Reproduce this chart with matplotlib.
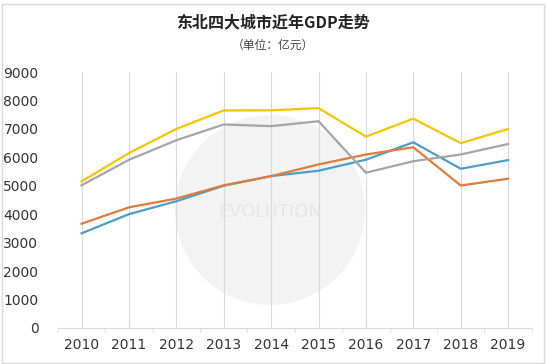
import matplotlib
matplotlib.use("Agg")
import matplotlib.pyplot as plt
from matplotlib.patches import Circle, Rectangle

years = ["2010", "2011", "2012", "2013", "2014", "2015", "2016", "2017", "2018", "2019"]
dalian = [5158, 6150, 7002, 7650, 7655, 7731, 6730, 7363, 6500, 7001]
shenyang = [5017, 5915, 6602, 7158, 7098, 7272, 5460, 5865, 6101, 6470]
changchun = [3329, 4003, 4457, 5004, 5342, 5530, 5917, 6530, 5599, 5904]
harbin = [3665, 4243, 4550, 5017, 5340, 5751, 6101, 6355, 5010, 5249]
yticks = [0, 1000, 2000, 3000, 4000, 5000, 6000, 7000, 8000, 9000]

plt.rcParams['font.family'] = ['Noto Sans CJK SC', 'DejaVu Sans']

fig = plt.figure(figsize=(5.46, 3.64), dpi=100)
fig.patch.set_facecolor('white')
# outer border
fig.patches.append(Rectangle((0.004, 0.004), 0.992, 0.984, transform=fig.transFigure,
                             fill=False, edgecolor='#d9d9d9', linewidth=1.0))

# faint watermark behind the plot
wm = Circle((270, 364 - 210), 95, transform=None, facecolor='#f3f3f3',
            edgecolor='none', zorder=-5)
fig.patches.append(wm)
fig.text(270 / 546, 1 - 212 / 364, "EVOLUTION", ha='center', va='center', fontsize=13,
         color='#e6e6e6', family='DejaVu Sans', zorder=-4)

ax = fig.add_axes([0.106, 0.099, 0.868, 0.703])
ax.set_facecolor('none')
x = list(range(len(years)))

for xi in x:
    ax.axvline(xi, color='#d9d9d9', linewidth=0.8, zorder=1)

ax.plot(x, changchun, color='#4a9ec7', linewidth=1.6, zorder=3)
ax.plot(x, harbin, color='#e07b39', linewidth=1.6, zorder=3)
ax.plot(x, shenyang, color='#a5a5a5', linewidth=1.6, zorder=3)
ax.plot(x, dalian, color='#f5c400', linewidth=1.6, zorder=4)

ax.set_xlim(-0.5, len(years) - 0.5)
ax.set_ylim(0, 9000)
ax.set_yticks(yticks)
ax.set_yticklabels([str(v) for v in yticks], fontsize=10, color='#333333', family='DejaVu Sans')
ax.set_xticks(x)
ax.set_xticklabels(years, fontsize=10, color='#333333', family='DejaVu Sans')
ax.tick_params(axis='y', length=0, pad=14)
ax.tick_params(axis='x', length=0, pad=7)
ax.set_xticks([i - 0.5 for i in range(len(years) + 1)], minor=True)
ax.tick_params(axis='x', which='minor', length=3, color='#d9d9d9')
for s in ['top', 'right', 'left']:
    ax.spines[s].set_visible(False)
ax.spines['bottom'].set_color('#d9d9d9')

fig.text(0.5, 1 - 22 / 364, "东北四大城市近年GDP走势", ha='center', va='center',
         fontsize=11.5, fontweight='bold', color='#222222')
fig.text(0.5, 1 - 45 / 364, "（单位：亿元）", ha='center', va='center',
         fontsize=8.5, color='#444444')

fig.savefig("out.png", dpi=100)
